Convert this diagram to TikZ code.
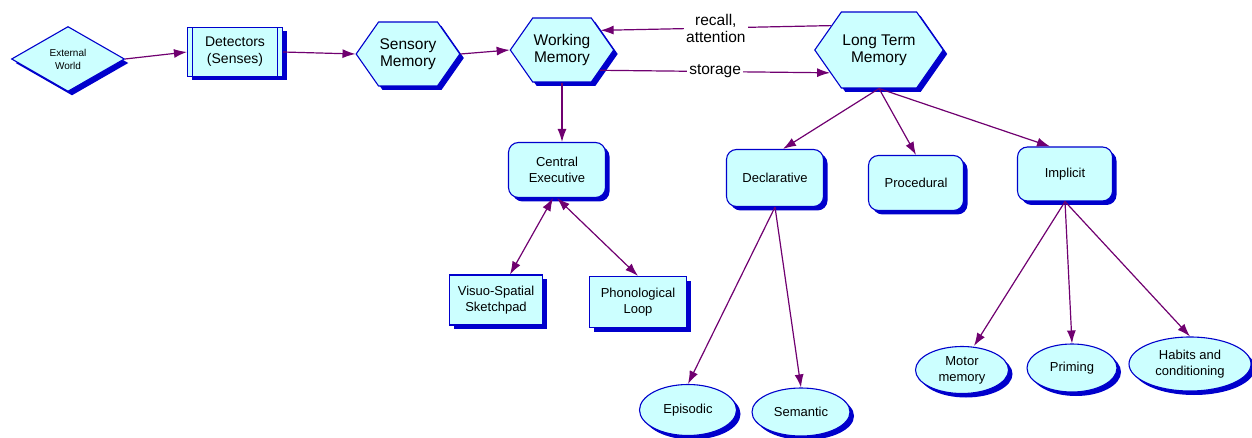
\documentclass[tikz,border=0pt]{standalone}
\usepackage{fontspec}
\setmainfont{Liberation Sans}
\usepackage{tikz}
\usetikzlibrary{arrows.meta, shapes.geometric, shapes.symbols, shadows}

\definecolor{nodefill}{RGB}{204,255,255}
\definecolor{nodeline}{RGB}{0,0,204}
\definecolor{linkcol}{RGB}{112,0,112}

\begin{document}
\begin{tikzpicture}[x=1pt, y=-1pt,
  base/.style={draw=nodeline, fill=nodefill, line width=1.1pt, align=center, inner sep=1pt,
    general shadow={fill=nodeline, shadow xshift=4pt, shadow yshift=-4pt}},
  hexa/.style={base, signal, signal to=west and east, signal pointer angle=110, font=\fontsize{15.5}{17}\selectfont},
  rbox/.style={base, rectangle, rounded corners=10pt, font=\fontsize{13}{16}\selectfont},
  sbox/.style={base, rectangle, font=\fontsize{13}{16}\selectfont},
  oval/.style={base, ellipse, font=\fontsize{13}{16}\selectfont},
  link/.style={draw=linkcol, line width=1.2pt, -{Latex[length=13pt, width=9pt]}},
  both/.style={link, {Latex[length=13pt, width=9pt]}-{Latex[length=13pt, width=9pt]}},
  lab/.style={fill=white, inner sep=2pt, align=center, font=\fontsize{15.5}{17}\selectfont}]
\useasboundingbox (0,0) rectangle (1252,438);

% top row
\node[base, diamond, minimum width=113pt, minimum height=65pt, inner sep=0pt,
  font=\fontsize{10}{13}\selectfont] (ew) at (68,59) {External\\World};
\node[sbox, minimum width=95pt, minimum height=49pt, font=\fontsize{14}{17}\selectfont,
  path picture={
    \draw[nodeline, line width=0.8pt] ([xshift=5pt]path picture bounding box.north west) -- ([xshift=5pt]path picture bounding box.south west);
    \draw[nodeline, line width=0.8pt] ([xshift=-5pt]path picture bounding box.north east) -- ([xshift=-5pt]path picture bounding box.south east);
  }] (det) at (235,52) {Detectors\\(Senses)};
\node[hexa, minimum width=102pt, minimum height=64pt] (sm) at (408,54) {Sensory\\Memory};
\node[hexa, minimum width=101pt, minimum height=64pt] (wm) at (562,50) {Working\\Memory};
\node[hexa, minimum width=122pt, minimum height=76pt] (ltm) at (879,50) {Long Term\\Memory};

% working memory parts
\node[rbox, minimum width=97pt, minimum height=55pt] (ce) at (557,170) {Central\\Executive};
\node[sbox, minimum width=93pt, minimum height=50pt] (vss) at (496,300) {Visuo-Spatial\\Sketchpad};
\node[sbox, minimum width=97pt, minimum height=51pt] (pl) at (638,302) {Phonological\\Loop};

% long term memory parts
\node[rbox, minimum width=97pt, minimum height=57pt] (decl) at (775,178) {Declarative};
\node[rbox, minimum width=95pt, minimum height=55pt] (proc) at (916,183) {Procedural};
\node[rbox, minimum width=95pt, minimum height=54pt] (impl) at (1065,174) {Implicit};

\node[oval, minimum width=97pt, minimum height=51pt] (epi) at (688,410) {Episodic};
\node[oval, minimum width=98pt, minimum height=48pt] (sem) at (801,412) {Semantic};
\node[oval, minimum width=93pt, minimum height=47pt] (mot) at (962,370) {Motor\\memory};
\node[oval, minimum width=90pt, minimum height=48pt] (prim) at (1072,368) {Priming};
\node[oval, minimum width=122pt, minimum height=54pt] (hab) at (1190,364) {Habits and\\conditioning};

% connectors
\draw[link] (ew.east) -- (det.west);
\draw[link] (det.east) -- (sm.west);
\draw[link] (sm.east) -- (wm.west);
\draw[link] (ltm.153) -- node[lab] {recall,\\attention} (wm.27);
\draw[link] (wm.-28) -- node[lab] {storage} (ltm.205);
\draw[link] (wm.south) -- (wm.south |- ce.north);
\draw[both] ([xshift=-4pt]ce.south) -- ([xshift=14pt]vss.north);
\draw[both] (ce.south) -- (pl.north);
\draw[link] (ltm.south) -- ([xshift=8pt]decl.north);
\draw[link] (ltm.south) -- (proc.north);
\draw[link] (ltm.south) -- ([xshift=-15pt]impl.north);
\draw[link] (decl.south) -- (epi.north);
\draw[link] (decl.south) -- (sem.north);
\draw[link] (impl.south) -- ([xshift=12pt]mot.north);
\draw[link] (impl.south) -- (prim.north);
\draw[link] (impl.south) -- (hab.north);
\end{tikzpicture}
\end{document}
